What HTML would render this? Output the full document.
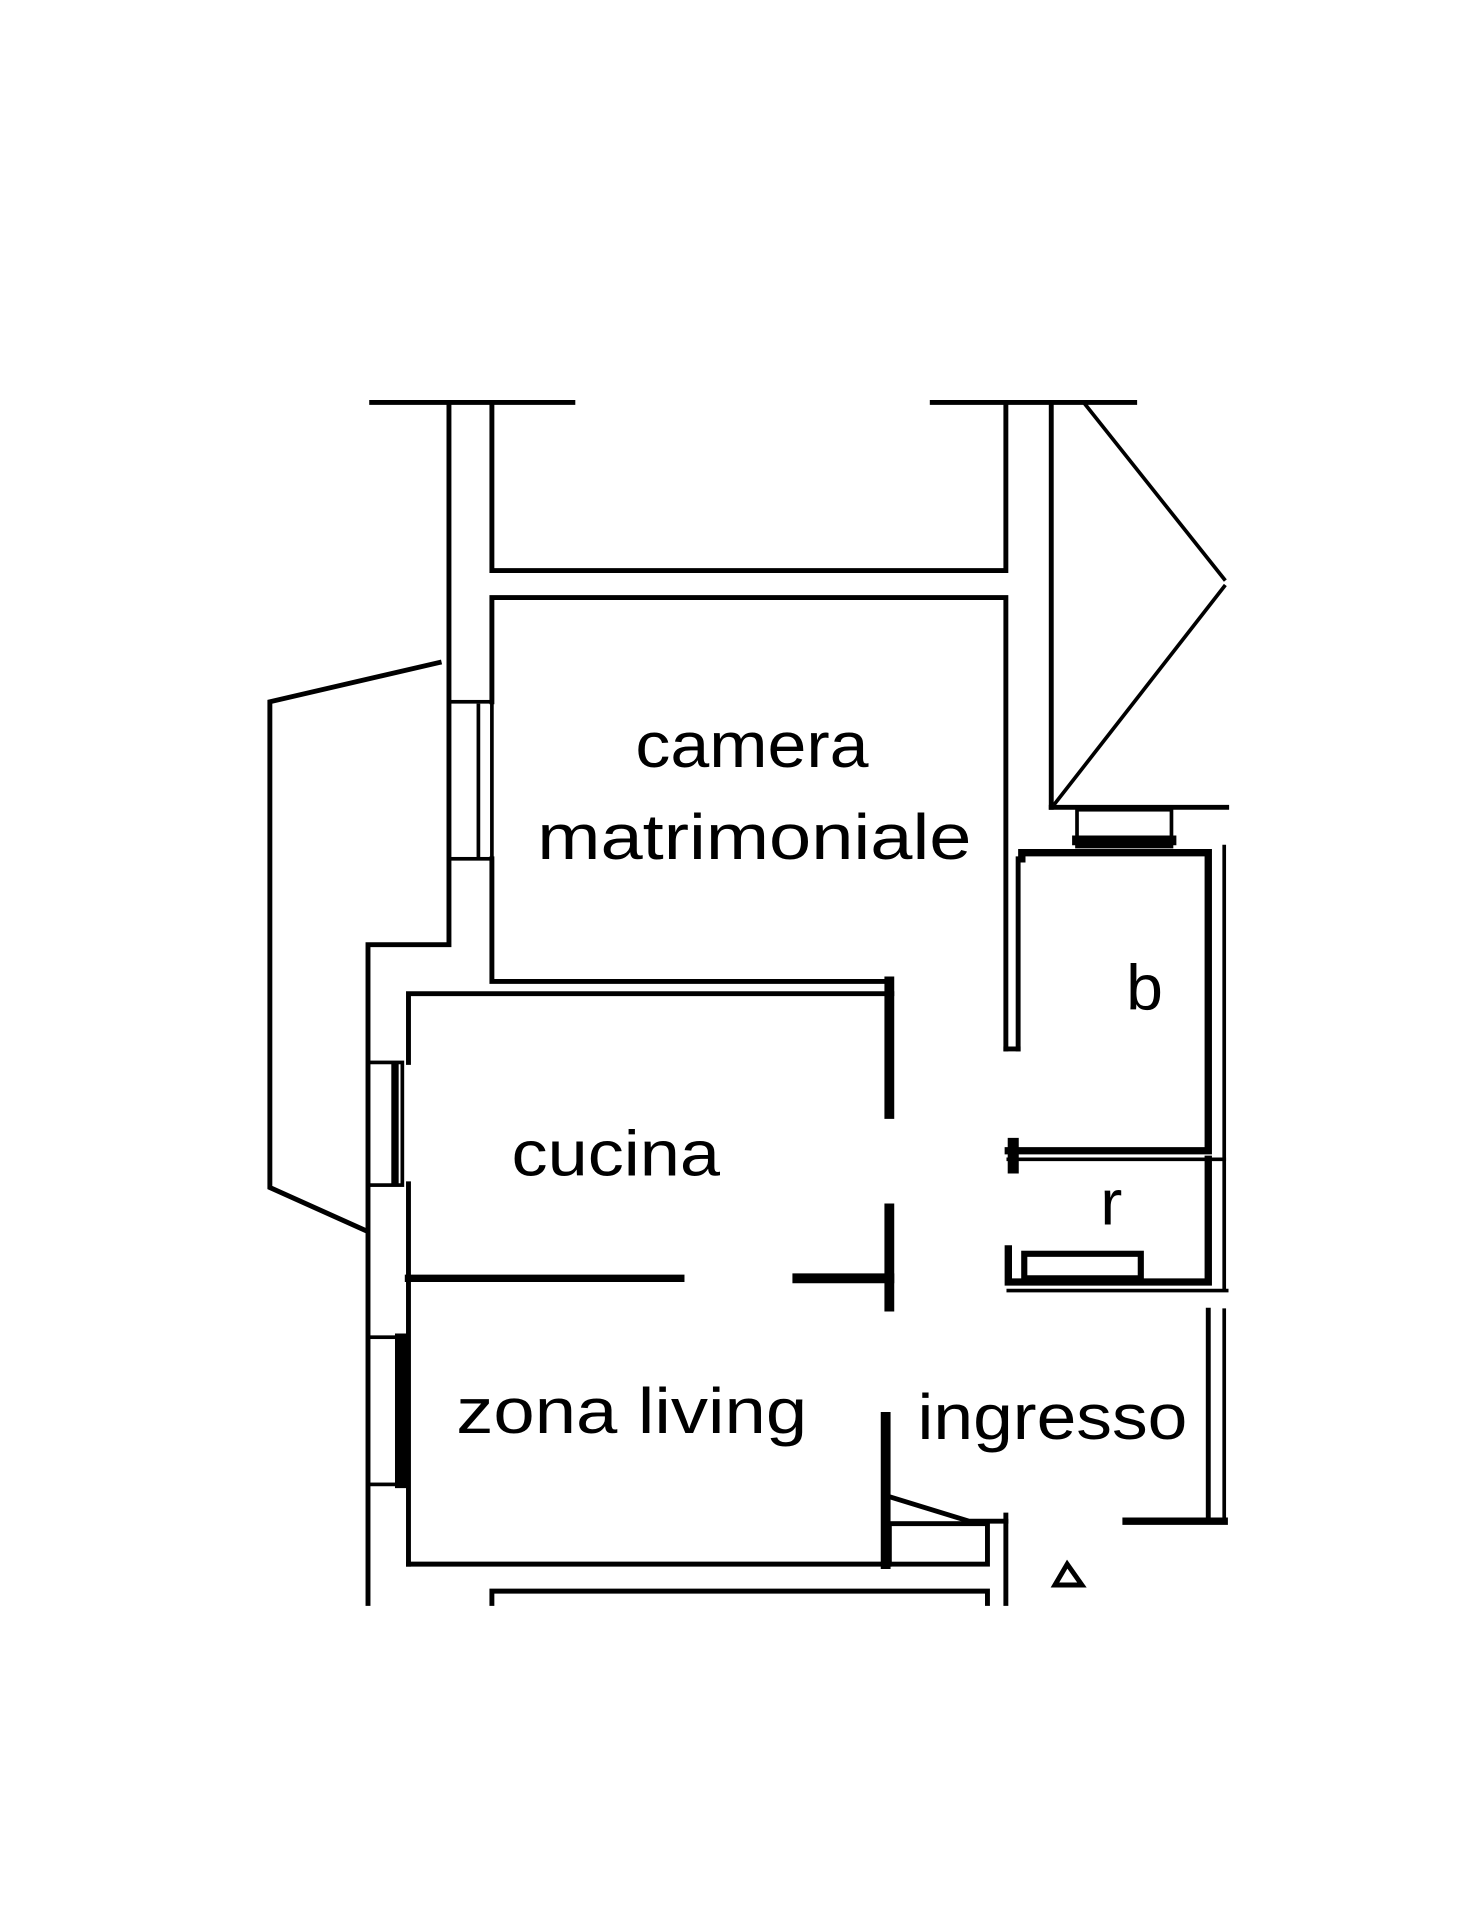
<!DOCTYPE html>
<html><head><style>html,body{margin:0;padding:0;background:#fff;}svg{display:block;}</style></head>
<body>
<svg width="1472" height="1920" viewBox="0 0 1200 1565" xmlns="http://www.w3.org/2000/svg">
<g fill="none" stroke="#000" stroke-width="4" stroke-linecap="square">
<line x1="303" y1="328" x2="467" y2="328"/>
<line x1="760" y1="328" x2="925" y2="328"/>
<polyline points="366,330 366,770 300,770 300,1307"/>
<polyline points="401,330 401,465 820,465 820,330"/>
<polyline points="401,572 401,487 820,487 820,855"/>
<line x1="830" y1="700" x2="830" y2="855" stroke-width="4"/>
<line x1="820" y1="855" x2="830" y2="855" stroke-width="4"/>
<polyline points="401,700 401,800 725,800 725,830"/>
<rect x="366" y="572" width="35" height="128" stroke-width="3"/>
<line x1="390" y1="575" x2="390" y2="697" stroke-width="3"/>
<line x1="857" y1="330" x2="857" y2="658"/>
<polyline points="885,330 998,472" stroke-width="3"/>
<polyline points="998,478 860,655" stroke-width="3"/>
<line x1="857" y1="658" x2="1000" y2="658"/>
<rect x="878" y="660" width="77" height="30" stroke-width="3"/>
<line x1="878" y1="685" x2="955" y2="685" stroke-width="8"/>
<polyline points="833,700 833,695 985,695 985,938 822,938" stroke-width="6"/>
<line x1="998" y1="690" x2="998" y2="1050" stroke-width="3"/>
<line x1="822" y1="945" x2="998" y2="945" stroke-width="3"/>
<line x1="826" y1="932" x2="826" y2="952" stroke-width="9"/>
<polyline points="985,945 985,1045 822,1045 822,1018" stroke-width="6"/>
<line x1="822" y1="1052" x2="1000" y2="1052" stroke-width="3"/>
<rect x="835" y="1022" width="95" height="20" stroke-width="5"/>
<polyline points="333,866 333,810 727,810 727,810"/>
<line x1="725" y1="800" x2="725" y2="908" stroke-width="8"/>
<line x1="725" y1="985" x2="725" y2="1065" stroke-width="8"/>
<line x1="333" y1="1042" x2="555" y2="1042" stroke-width="6"/>
<line x1="650" y1="1042" x2="725" y2="1042" stroke-width="8"/>
<line x1="333" y1="965" x2="333" y2="1275"/>
<rect x="300" y="866" width="28" height="100" stroke-width="3"/>
<line x1="322" y1="870" x2="322" y2="962" stroke-width="6"/>
<rect x="300" y="1090" width="33" height="120" stroke-width="3"/>
<line x1="327" y1="1092" x2="327" y2="1208" stroke-width="10"/>
<polyline points="358,540 220,572 220,968 298,1003" stroke-width="4"/>
<line x1="333" y1="1275" x2="725" y2="1275"/>
<line x1="722" y1="1155" x2="722" y2="1275" stroke-width="8"/>
<polyline points="725,1220 790,1240 820,1240" stroke-width="4"/>
<rect x="725" y="1242" width="80" height="33" stroke-width="4"/>
<line x1="820" y1="1235" x2="820" y2="1307"/>
<polyline points="401,1307 401,1297 805,1297 805,1307"/>
<line x1="985" y1="1068" x2="985" y2="1240" stroke-width="4"/>
<line x1="998" y1="1068" x2="998" y2="1240" stroke-width="3"/>
<line x1="918" y1="1240" x2="998" y2="1240" stroke-width="6"/>
<polygon points="870,1275 860,1292 882,1292" stroke-width="4"/>
</g>
<g font-family="Liberation Sans, sans-serif" font-size="52" fill="#000" text-anchor="middle">
<text x="613" y="625" textLength="190" lengthAdjust="spacingAndGlyphs">camera</text>
<text x="615" y="700" textLength="354" lengthAdjust="spacingAndGlyphs">matrimoniale</text>
<text x="933" y="823" textLength="30" lengthAdjust="spacingAndGlyphs">b</text>
<text x="502" y="958" textLength="170" lengthAdjust="spacingAndGlyphs">cucina</text>
<text x="906" y="998" textLength="18" lengthAdjust="spacingAndGlyphs">r</text>
<text x="515" y="1168" textLength="286" lengthAdjust="spacingAndGlyphs">zona living</text>
<text x="858" y="1173" textLength="220" lengthAdjust="spacingAndGlyphs">ingresso</text>
</g>
</svg>
</body></html>
